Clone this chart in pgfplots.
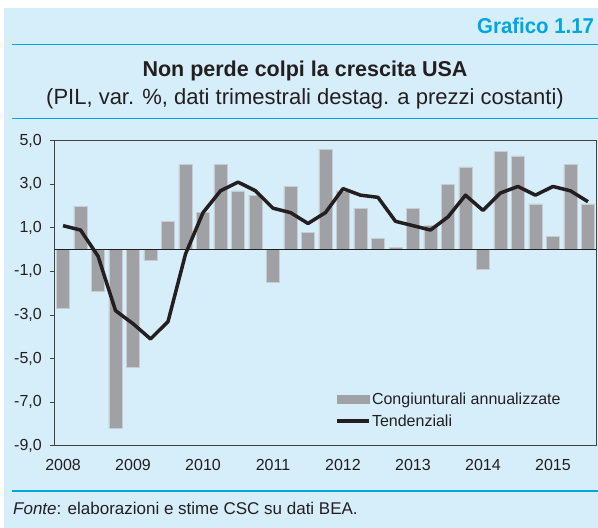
\documentclass[border=0pt]{standalone}
\usepackage{pgfplots}
\pgfplotsset{compat=1.18}
\usepackage{fontspec}
\setmainfont{Liberation Sans}
\newfontfamily\grafont[FakeStretch=0.95]{Liberation Sans}
\definecolor{bgblue}{RGB}{214,237,250}
\definecolor{accent}{RGB}{0,166,226}
\definecolor{barg}{RGB}{160,161,165}
\definecolor{baredge}{RGB}{200,205,210}
\definecolor{txt}{RGB}{35,31,32}
\begin{document}
\begin{tikzpicture}
\useasboundingbox (0,0) rectangle (598bp,-528bp);
\fill[white] (0,0) rectangle (598bp,-528bp);
\fill[bgblue] (4bp,-8bp) rectangle (598bp,-528bp);
\draw[accent, line width=1.6bp] (12bp,-44.3bp) -- (598bp,-44.3bp);
\draw[accent, line width=1.6bp] (12bp,-118.3bp) -- (598bp,-118.3bp);
\draw[accent, line width=1.6bp] (12bp,-490.7bp) -- (598bp,-490.7bp);
\node[anchor=base east, inner sep=0pt, text=accent, font=\grafont\bfseries\fontsize{21.5bp}{24bp}\selectfont] at (594.3bp,-33.3bp) {Grafico 1.17};
\node[anchor=base, inner sep=0pt, text=txt, font=\bfseries\fontsize{21.5bp}{24bp}\selectfont] at (305bp,-76.7bp) {Non perde colpi la crescita USA};
\node[anchor=base, inner sep=0pt, text=txt, font=\fontsize{22bp}{24bp}\selectfont] at (305bp,-104.3bp) {(PIL, var. \%, dati trimestrali destag. a prezzi costanti)};
\node[anchor=base west, inner sep=0pt, text=txt, font=\fontsize{17bp}{20bp}\selectfont] at (13bp,-514bp) {\textit{Fonte}: elaborazioni e stime CSC su dati BEA.};
\begin{axis}[
  at={(54.3bp,-445.7bp)}, anchor=south west,
  width=542.4bp, height=305bp, scale only axis,
  xmin=-0.5, xmax=30.5, ymin=-9, ymax=5,
  axis line style={draw=txt!85, line width=0.8bp},
  ytick={-9,-7,-5,-3,-1,1,3,5},
  xtick={0,4,8,12,16,20,24,28},
  xticklabels={2008,2009,2010,2011,2012,2013,2014,2015},
  tick align=outside,
  ytick pos=left, xtick pos=bottom,
  major tick length=4bp,
  x tick style={draw=none},
  y tick style={draw=txt!85, line width=0.8bp},
  tick label style={font=\fontsize{16bp}{18bp}\selectfont, text=txt},
  /pgf/number format/assume math mode=true,
  yticklabel style={xshift=-5bp, /pgf/number format/.cd, fixed, fixed zerofill, precision=1, use comma},
  xticklabel style={yshift=-6bp},
  legend style={at={(0.5126,0.185)}, anchor=north west, draw=none, fill=none,
    font=\fontsize{16bp}{18bp}\selectfont, text=txt, row sep=7bp,
    nodes={inner xsep=1bp, inner ysep=1bp}},
  legend cell align=left,
]
\addplot[ybar, bar width=0.76, fill=barg, draw=baredge, line width=0.5bp,
  legend image code/.code={\fill[barg] (0bp,-4bp) rectangle (32bp,4bp);}]
  coordinates {
(0,-2.7) (1,2.0) (2,-1.9) (3,-8.2) (4,-5.4) (5,-0.5) (6,1.3) (7,3.9)
(8,1.7) (9,3.9) (10,2.7) (11,2.5) (12,-1.5) (13,2.9) (14,0.8) (15,4.6)
(16,2.7) (17,1.9) (18,0.5) (19,0.1) (20,1.9) (21,1.1) (22,3.0) (23,3.8)
(24,-0.9) (25,4.5) (26,4.3) (27,2.1) (28,0.6) (29,3.9) (30,2.1)
  };
\addlegendentry{Congiunturali annualizzate}
\addplot[forget plot, draw=txt, line width=0.8bp] coordinates {(-0.5,0) (30.5,0)};
\addplot[draw=txt, line width=3.5bp, line join=round,
  legend image code/.code={\draw[txt, line width=3.5bp] (0bp,0bp) -- (32bp,0bp);}]
  coordinates {
(0,1.1) (1,0.9) (2,-0.3) (3,-2.8) (4,-3.4) (5,-4.1) (6,-3.3) (7,-0.2)
(8,1.7) (9,2.7) (10,3.1) (11,2.7) (12,1.9) (13,1.7) (14,1.2) (15,1.7)
(16,2.8) (17,2.5) (18,2.4) (19,1.3) (20,1.1) (21,0.9) (22,1.5) (23,2.5)
(24,1.8) (25,2.6) (26,2.9) (27,2.5) (28,2.9) (29,2.7) (30,2.2)
  };
\addlegendentry{Tendenziali}
\end{axis}
\end{tikzpicture}
\end{document}
